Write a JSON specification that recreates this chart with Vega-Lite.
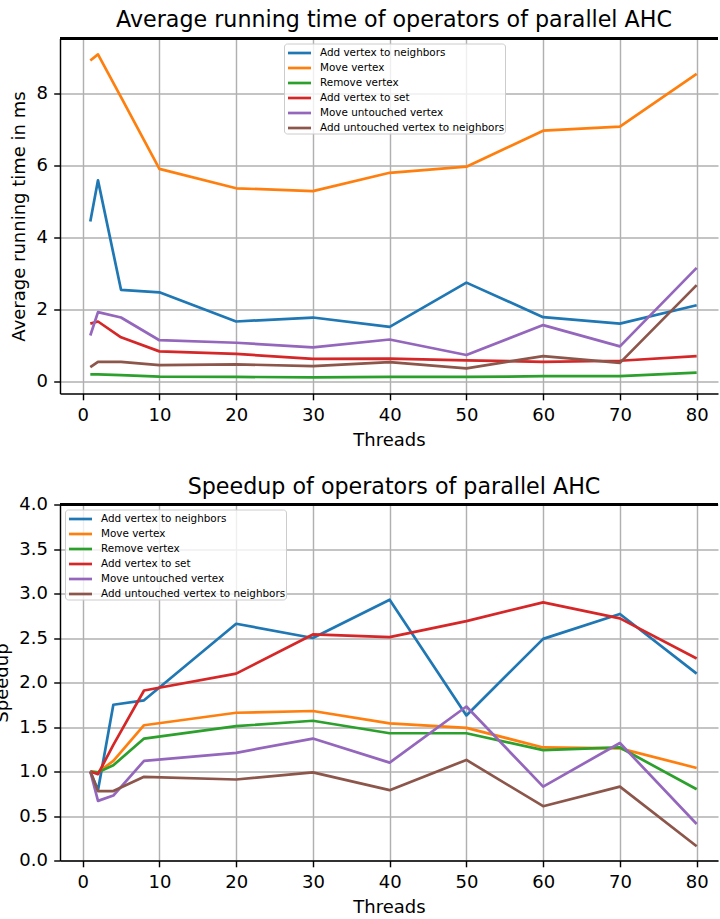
{
  "$schema": "https://vega.github.io/schema/vega-lite/v6.json",
  "padding": {"left": -7, "top": 8.5, "right": 0, "bottom": 2},
  "datasets": {
    "time": [
      {"t": 1, "op": "Add vertex to neighbors", "v": 4.46},
      {"t": 2, "op": "Add vertex to neighbors", "v": 5.60},
      {"t": 5, "op": "Add vertex to neighbors", "v": 2.56},
      {"t": 10, "op": "Add vertex to neighbors", "v": 2.49},
      {"t": 20, "op": "Add vertex to neighbors", "v": 1.68},
      {"t": 30, "op": "Add vertex to neighbors", "v": 1.79},
      {"t": 40, "op": "Add vertex to neighbors", "v": 1.53},
      {"t": 50, "op": "Add vertex to neighbors", "v": 2.76},
      {"t": 60, "op": "Add vertex to neighbors", "v": 1.80},
      {"t": 70, "op": "Add vertex to neighbors", "v": 1.62},
      {"t": 80, "op": "Add vertex to neighbors", "v": 2.13},
      {"t": 1, "op": "Move vertex", "v": 8.93},
      {"t": 2, "op": "Move vertex", "v": 9.10},
      {"t": 5, "op": "Move vertex", "v": 7.91},
      {"t": 10, "op": "Move vertex", "v": 5.92},
      {"t": 20, "op": "Move vertex", "v": 5.38},
      {"t": 30, "op": "Move vertex", "v": 5.30},
      {"t": 40, "op": "Move vertex", "v": 5.81},
      {"t": 50, "op": "Move vertex", "v": 5.98},
      {"t": 60, "op": "Move vertex", "v": 6.98},
      {"t": 70, "op": "Move vertex", "v": 7.09},
      {"t": 80, "op": "Move vertex", "v": 8.56},
      {"t": 1, "op": "Remove vertex", "v": 0.21},
      {"t": 2, "op": "Remove vertex", "v": 0.21},
      {"t": 5, "op": "Remove vertex", "v": 0.19},
      {"t": 10, "op": "Remove vertex", "v": 0.15},
      {"t": 20, "op": "Remove vertex", "v": 0.14},
      {"t": 30, "op": "Remove vertex", "v": 0.13},
      {"t": 40, "op": "Remove vertex", "v": 0.14},
      {"t": 50, "op": "Remove vertex", "v": 0.14},
      {"t": 60, "op": "Remove vertex", "v": 0.16},
      {"t": 70, "op": "Remove vertex", "v": 0.16},
      {"t": 80, "op": "Remove vertex", "v": 0.26},
      {"t": 1, "op": "Add vertex to set", "v": 1.62},
      {"t": 2, "op": "Add vertex to set", "v": 1.68},
      {"t": 5, "op": "Add vertex to set", "v": 1.24},
      {"t": 10, "op": "Add vertex to set", "v": 0.85},
      {"t": 20, "op": "Add vertex to set", "v": 0.78},
      {"t": 30, "op": "Add vertex to set", "v": 0.64},
      {"t": 40, "op": "Add vertex to set", "v": 0.65},
      {"t": 50, "op": "Add vertex to set", "v": 0.60},
      {"t": 60, "op": "Add vertex to set", "v": 0.56},
      {"t": 70, "op": "Add vertex to set", "v": 0.59},
      {"t": 80, "op": "Add vertex to set", "v": 0.72},
      {"t": 1, "op": "Move untouched vertex", "v": 1.29},
      {"t": 2, "op": "Move untouched vertex", "v": 1.94},
      {"t": 5, "op": "Move untouched vertex", "v": 1.79},
      {"t": 10, "op": "Move untouched vertex", "v": 1.16},
      {"t": 20, "op": "Move untouched vertex", "v": 1.09},
      {"t": 30, "op": "Move untouched vertex", "v": 0.96},
      {"t": 40, "op": "Move untouched vertex", "v": 1.18},
      {"t": 50, "op": "Move untouched vertex", "v": 0.75},
      {"t": 60, "op": "Move untouched vertex", "v": 1.58},
      {"t": 70, "op": "Move untouched vertex", "v": 0.99},
      {"t": 80, "op": "Move untouched vertex", "v": 3.17},
      {"t": 1, "op": "Add untouched vertex to neighbors", "v": 0.41},
      {"t": 2, "op": "Add untouched vertex to neighbors", "v": 0.56},
      {"t": 5, "op": "Add untouched vertex to neighbors", "v": 0.56},
      {"t": 10, "op": "Add untouched vertex to neighbors", "v": 0.47},
      {"t": 20, "op": "Add untouched vertex to neighbors", "v": 0.49},
      {"t": 30, "op": "Add untouched vertex to neighbors", "v": 0.44},
      {"t": 40, "op": "Add untouched vertex to neighbors", "v": 0.55},
      {"t": 50, "op": "Add untouched vertex to neighbors", "v": 0.38},
      {"t": 60, "op": "Add untouched vertex to neighbors", "v": 0.72},
      {"t": 70, "op": "Add untouched vertex to neighbors", "v": 0.53},
      {"t": 80, "op": "Add untouched vertex to neighbors", "v": 2.69}
    ],
    "speedup": [
      {"t": 1, "op": "Add vertex to neighbors", "v": 1.00},
      {"t": 2, "op": "Add vertex to neighbors", "v": 0.79},
      {"t": 4, "op": "Add vertex to neighbors", "v": 1.75},
      {"t": 8, "op": "Add vertex to neighbors", "v": 1.80},
      {"t": 20, "op": "Add vertex to neighbors", "v": 2.66},
      {"t": 30, "op": "Add vertex to neighbors", "v": 2.50},
      {"t": 40, "op": "Add vertex to neighbors", "v": 2.93},
      {"t": 50, "op": "Add vertex to neighbors", "v": 1.63},
      {"t": 60, "op": "Add vertex to neighbors", "v": 2.49},
      {"t": 70, "op": "Add vertex to neighbors", "v": 2.77},
      {"t": 80, "op": "Add vertex to neighbors", "v": 2.10},
      {"t": 1, "op": "Move vertex", "v": 1.00},
      {"t": 2, "op": "Move vertex", "v": 0.99},
      {"t": 4, "op": "Move vertex", "v": 1.12},
      {"t": 8, "op": "Move vertex", "v": 1.52},
      {"t": 20, "op": "Move vertex", "v": 1.66},
      {"t": 30, "op": "Move vertex", "v": 1.68},
      {"t": 40, "op": "Move vertex", "v": 1.54},
      {"t": 50, "op": "Move vertex", "v": 1.49},
      {"t": 60, "op": "Move vertex", "v": 1.27},
      {"t": 70, "op": "Move vertex", "v": 1.26},
      {"t": 80, "op": "Move vertex", "v": 1.04},
      {"t": 1, "op": "Remove vertex", "v": 1.00},
      {"t": 2, "op": "Remove vertex", "v": 0.99},
      {"t": 4, "op": "Remove vertex", "v": 1.07},
      {"t": 8, "op": "Remove vertex", "v": 1.37},
      {"t": 20, "op": "Remove vertex", "v": 1.51},
      {"t": 30, "op": "Remove vertex", "v": 1.57},
      {"t": 40, "op": "Remove vertex", "v": 1.43},
      {"t": 50, "op": "Remove vertex", "v": 1.43},
      {"t": 60, "op": "Remove vertex", "v": 1.24},
      {"t": 70, "op": "Remove vertex", "v": 1.27},
      {"t": 80, "op": "Remove vertex", "v": 0.80},
      {"t": 1, "op": "Add vertex to set", "v": 1.00},
      {"t": 2, "op": "Add vertex to set", "v": 0.97},
      {"t": 4, "op": "Add vertex to set", "v": 1.30},
      {"t": 8, "op": "Add vertex to set", "v": 1.91},
      {"t": 20, "op": "Add vertex to set", "v": 2.10},
      {"t": 30, "op": "Add vertex to set", "v": 2.54},
      {"t": 40, "op": "Add vertex to set", "v": 2.51},
      {"t": 50, "op": "Add vertex to set", "v": 2.69},
      {"t": 60, "op": "Add vertex to set", "v": 2.90},
      {"t": 70, "op": "Add vertex to set", "v": 2.72},
      {"t": 80, "op": "Add vertex to set", "v": 2.27},
      {"t": 1, "op": "Move untouched vertex", "v": 1.00},
      {"t": 2, "op": "Move untouched vertex", "v": 0.67},
      {"t": 4, "op": "Move untouched vertex", "v": 0.73},
      {"t": 8, "op": "Move untouched vertex", "v": 1.12},
      {"t": 20, "op": "Move untouched vertex", "v": 1.21},
      {"t": 30, "op": "Move untouched vertex", "v": 1.37},
      {"t": 40, "op": "Move untouched vertex", "v": 1.10},
      {"t": 50, "op": "Move untouched vertex", "v": 1.73},
      {"t": 60, "op": "Move untouched vertex", "v": 0.83},
      {"t": 70, "op": "Move untouched vertex", "v": 1.32},
      {"t": 80, "op": "Move untouched vertex", "v": 0.41},
      {"t": 1, "op": "Add untouched vertex to neighbors", "v": 1.00},
      {"t": 2, "op": "Add untouched vertex to neighbors", "v": 0.78},
      {"t": 4, "op": "Add untouched vertex to neighbors", "v": 0.78},
      {"t": 8, "op": "Add untouched vertex to neighbors", "v": 0.94},
      {"t": 20, "op": "Add untouched vertex to neighbors", "v": 0.91},
      {"t": 30, "op": "Add untouched vertex to neighbors", "v": 0.99},
      {"t": 40, "op": "Add untouched vertex to neighbors", "v": 0.79},
      {"t": 50, "op": "Add untouched vertex to neighbors", "v": 1.13},
      {"t": 60, "op": "Add untouched vertex to neighbors", "v": 0.61},
      {"t": 70, "op": "Add untouched vertex to neighbors", "v": 0.83},
      {"t": 80, "op": "Add untouched vertex to neighbors", "v": 0.16}
    ]
  },
  "vconcat": [
    {
      "width": 658,
      "height": 355,
      "title": {"text": "Average running time of operators of parallel AHC", "dx": 5},
      "data": {"name": "time"},
      "layer": [
        {
          "mark": {"type": "line", "strokeWidth": 2.7, "strokeJoin": "round"},
          "encoding": {
            "x": {"field": "t", "type": "quantitative", "scale": {"domain": [-2.95, 82.78], "nice": false, "zero": false}, "axis": {"values": [0, 10, 20, 30, 40, 50, 60, 70, 80], "title": "Threads"}},
            "y": {"field": "v", "type": "quantitative", "scale": {"domain": [-0.32, 9.54], "nice": false, "zero": false}, "axis": {"values": [0, 2, 4, 6, 8], "title": "Average running time in ms"}},
            "color": {
              "field": "op", "type": "nominal",
              "scale": {"domain": ["Add vertex to neighbors", "Move vertex", "Remove vertex", "Add vertex to set", "Move untouched vertex", "Add untouched vertex to neighbors"], "range": ["#1f77b4", "#ff7f0e", "#2ca02c", "#d62728", "#9467bd", "#8c564b"]},
              "legend": {"title": null, "orient": "none", "legendX": 224, "legendY": 5}
            }
          }
        },
        {
          "mark": {"type": "rule", "color": "black", "strokeWidth": 1.44},
          "encoding": {"y": {"datum": 9.54}}
        }
      ]
    },
    {
      "width": 658,
      "height": 356,
      "title": {"text": "Speedup of operators of parallel AHC", "dx": 5, "offset": -2.7},
      "data": {"name": "speedup"},
      "layer": [
        {
          "mark": {"type": "line", "strokeWidth": 2.7, "strokeJoin": "round"},
          "encoding": {
            "x": {"field": "t", "type": "quantitative", "scale": {"domain": [-2.95, 82.78], "nice": false, "zero": false}, "axis": {"values": [0, 10, 20, 30, 40, 50, 60, 70, 80], "title": "Threads"}},
            "y": {"field": "v", "type": "quantitative", "scale": {"domain": [0, 4], "nice": false}, "axis": {"values": [0, 0.5, 1, 1.5, 2, 2.5, 3, 3.5, 4], "format": ".1f", "title": "Speedup"}},
            "color": {
              "field": "op", "type": "nominal",
              "scale": {"domain": ["Add vertex to neighbors", "Move vertex", "Remove vertex", "Add vertex to set", "Move untouched vertex", "Add untouched vertex to neighbors"], "range": ["#1f77b4", "#ff7f0e", "#2ca02c", "#d62728", "#9467bd", "#8c564b"]},
              "legend": {"title": null, "orient": "none", "legendX": 5, "legendY": 5}
            }
          }
        },
        {
          "mark": {"type": "rule", "color": "black", "strokeWidth": 1.44},
          "encoding": {"y": {"datum": 4}}
        }
      ]
    }
  ],
  "spacing": 26,
  "resolve": {"scale": {"color": "independent", "x": "independent", "y": "independent"}, "legend": {"color": "independent"}},
  "config": {
    "font": "DejaVu Sans",
    "view": {"stroke": null},
    "axis": {
      "labelFont": "DejaVu Sans", "titleFont": "DejaVu Sans",
      "labelFontSize": 18, "titleFontSize": 18, "titleFontWeight": "normal",
      "labelColor": "black", "titleColor": "black", "tickColor": "black", "domainColor": "black",
      "tickSize": 6.3, "tickWidth": 1.44, "domainWidth": 1.44, "labelPadding": 6.3, "titlePadding": 7.2,
      "gridColor": "#b0b0b0", "gridWidth": 1.44, "gridOpacity": 1, "labelFlush": false, "labelOverlap": false
    },
    "title": {"font": "DejaVu Sans", "fontSize": 22.2, "fontWeight": "normal", "color": "black", "frame": "group", "offset": 6.8, "anchor": "middle"},
    "legend": {
      "labelFont": "DejaVu Sans", "labelFontSize": 10.4, "labelColor": "black",
      "symbolType": "M-1.44,0H1.44", "symbolStrokeWidth": 2.7, "symbolSize": 256, "symbolOffset": 6,
      "fillColor": "rgba(255,255,255,0.8)", "strokeColor": "#cccccc", "strokeWidth": 1, "cornerRadius": 3,
      "padding": 0, "rowPadding": -3, "labelOffset": 11, "labelLimit": 400
    }
  }
}
